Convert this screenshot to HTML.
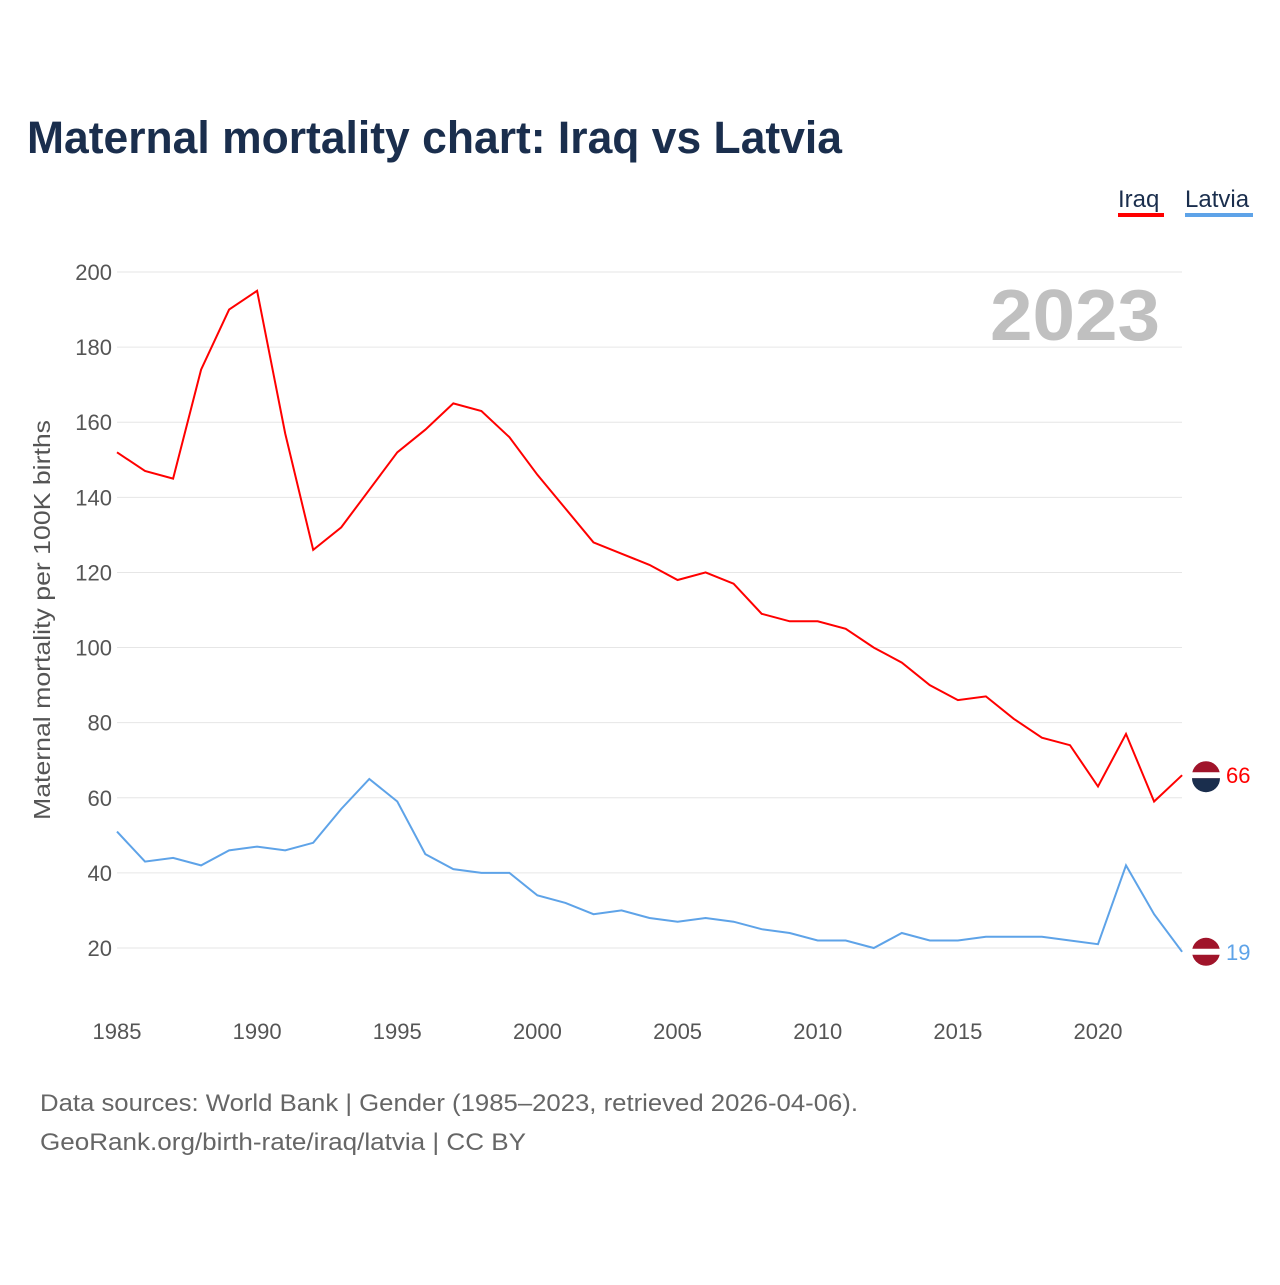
<!DOCTYPE html>
<html><head><meta charset="utf-8"><style>
body{margin:0;background:#fff;font-family:"Liberation Sans",sans-serif}
svg text{font-family:"Liberation Sans",sans-serif}
</style></head><body>
<svg id="chart" width="1280" height="1280" viewBox="0 0 1280 1280" xmlns="http://www.w3.org/2000/svg">
<rect width="1280" height="1280" fill="#fff"/>
<text x="27" y="153" font-size="45" font-weight="bold" fill="#1a2e4d" textLength="815" lengthAdjust="spacingAndGlyphs">Maternal mortality chart: Iraq vs Latvia</text>
<g><text x="1118" y="207" font-size="24" fill="#1a2e4d">Iraq</text><rect x="1118" y="213" width="46" height="4" fill="#ff0000"/></g>
<g><text x="1185" y="207" font-size="24" fill="#1a2e4d">Latvia</text><rect x="1185" y="213" width="68" height="4" fill="#5ea3e8"/></g>
<text x="990" y="340" font-size="72" font-weight="bold" fill="#c0c0c0" textLength="170" lengthAdjust="spacingAndGlyphs">2023</text>
<text transform="translate(50,620) rotate(-90)" font-size="23" fill="#555" text-anchor="middle" textLength="400" lengthAdjust="spacingAndGlyphs">Maternal mortality per 100K births</text>
<g id="grid"></g><g id="lines"></g>
<text x="40" y="1111" font-size="24" fill="#666" textLength="818" lengthAdjust="spacingAndGlyphs">Data sources: World Bank | Gender (1985–2023, retrieved 2026-04-06).</text>
<text x="40" y="1150" font-size="24" fill="#666" textLength="486" lengthAdjust="spacingAndGlyphs">GeoRank.org/birth-rate/iraq/latvia | CC BY</text>
</svg>
<script>
const years=[1985,1986,1987,1988,1989,1990,1991,1992,1993,1994,1995,1996,1997,1998,1999,2000,2001,2002,2003,2004,2005,2006,2007,2008,2009,2010,2011,2012,2013,2014,2015,2016,2017,2018,2019,2020,2021,2022,2023];
const iraq=[152,147,145,174,190,195,157,126,132,142,152,158,165,163,156,146,137,128,125,122,118,120,117,109,107,107,105,100,96,90,86,87,81,76,74,63,77,59,66];
const latvia=[51,43,44,42,46,47,46,48,57,65,59,45,41,40,40,34,32,29,30,28,27,28,27,25,24,22,22,20,24,22,22,23,23,23,22,21,42,29,19];
const yTicks=[20,40,60,80,100,120,140,160,180,200];
const xTicks=[1985,1990,1995,2000,2005,2010,2015,2020];
const NS="http://www.w3.org/2000/svg";
const x=v=>117+(v-1985)*(1098-117)/35;
const y=v=>272+(200-v)*(948-272)/180;
const grid=document.getElementById('grid'),lines=document.getElementById('lines');
function mk(tag,attrs,parent){const e=document.createElementNS(NS,tag);for(const k in attrs)e.setAttribute(k,attrs[k]);parent.appendChild(e);return e;}
yTicks.forEach(t=>{
 const l=mk('line',{x1:117,x2:1182,y1:y(t),y2:y(t),stroke:'#e6e6e6','stroke-width':1},grid);
 
 
 const tx=mk('text',{x:112,y:y(t)+8,'font-size':22,fill:'#555','text-anchor':'end'},grid);
 tx.textContent=t;
 
 
});
xTicks.forEach(t=>{
 const tx=mk('text',{x:x(t),y:1039,'font-size':22,fill:'#555','text-anchor':'middle'},grid);
 tx.textContent=t;
 
 
});
function series(vals,color,name){
 const d=vals.map((v,i)=>(i?'L':'M')+x(years[i]).toFixed(1)+','+y(v).toFixed(1)).join(' ');
 const p=mk('path',{d:d,fill:'none',stroke:color,'stroke-width':2},lines);
 
 
 const last=vals[vals.length-1],ly=y(last);
 const c=mk('circle',{cx:1206,cy:ly,r:14,fill:'#a0142a'},lines);
 
 
 mk('rect',{x:1192,y:ly-3,width:28,height:6,fill:'#fff'},lines);
 if(name==='iraq'){mk('path',{d:`M1192,${ly+3} L1220,${ly+3} A14,14 0 0 1 1192,${ly+3} Z`,fill:'#1a2e4d'},lines);}
 const t=mk('text',{x:1226,y:ly+8,'font-size':22,fill:color},lines);
 t.textContent=last;
 
 
}
series(iraq,'#ff0000','iraq');
series(latvia,'#5ea3e8','latvia');
</script>
</body></html>
